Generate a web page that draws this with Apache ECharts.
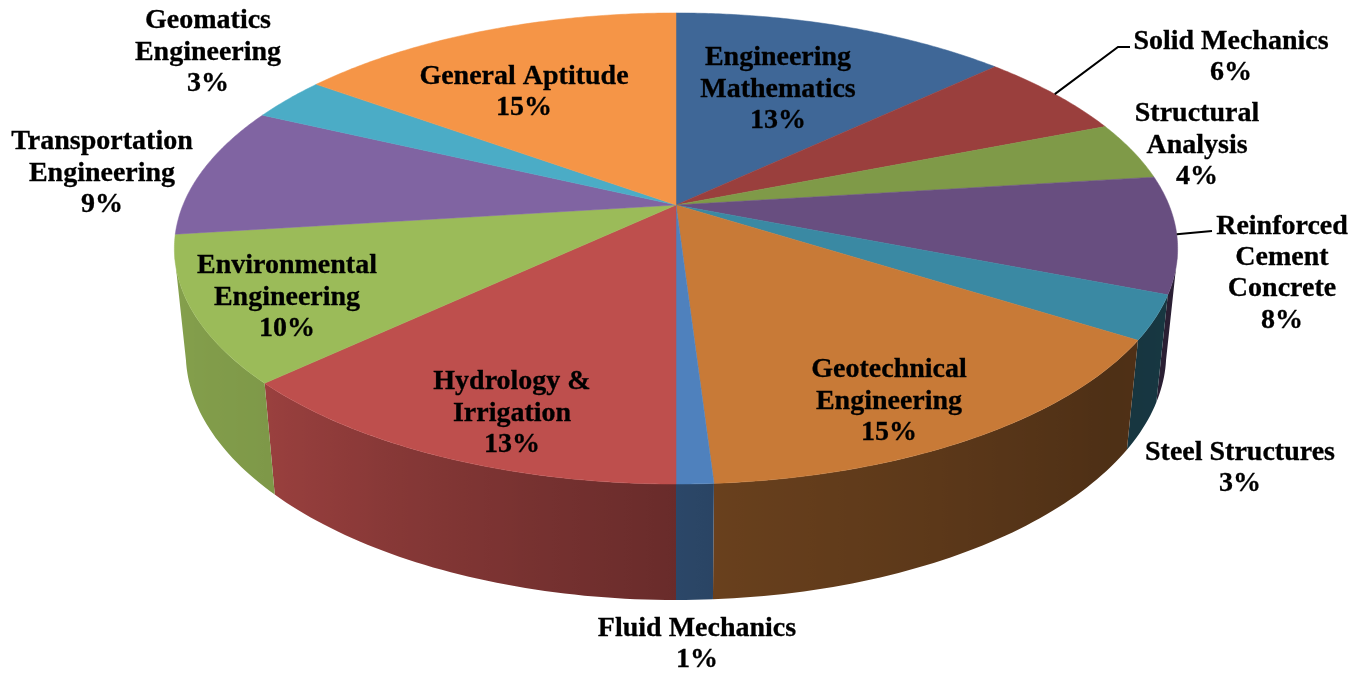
<!DOCTYPE html>
<html>
<head>
<meta charset="utf-8">
<style>html,body{margin:0;padding:0;background:#fff}#chart{width:1368px;height:673px}</style>
<script src="https://cdn.jsdelivr.net/npm/echarts@6/dist/echarts.min.js"></script>
</head>
<body>
<div id="chart"></div>
<script>
// ---- data ----
const categories = [
  'Engineering\nMathematics', 'Solid Mechanics', 'Structural\nAnalysis',
  'Reinforced\nCement\nConcrete', 'Steel Structures', 'Geotechnical\nEngineering',
  'Fluid Mechanics', 'Hydrology &\nIrrigation', 'Environmental\nEngineering',
  'Transportation\nEngineering', 'Geomatics\nEngineering', 'General Aptitude'
];
const values = [13, 6, 4, 8, 3, 15, 1, 13, 10, 9, 3, 15];

// ---- styles ----
const colors = ['#3f6797', '#9a3f3d', '#7f9a48', '#684e80', '#3a89a3', '#c87a37',
                '#4f81bd', '#be4f4d', '#9bbb59', '#8064a2', '#4bacc6', '#f59547'];
// wall brightness as a function of the rim angle
const wallShade = [[0, .42], [80, .42], [130, .39], [175, .52], [180, .55], [228, .82], [250, .85], [360, .85]];

// ---- layout: label centres, and which labels have leader lines ----
const labelCentres = [[778, 87], [1231, 55], [1197, 143], [1282, 271], [1240, 466], [889, 399],
                      [697, 642], [512, 411], [287, 295], [102, 171], [208, 50], [524, 90]];
const leaders = { 1: [[1118, 47], [1130, 47]], 3: [[1212, 231]] };
const FONT = 'bold 28px "Liberation Serif", serif';
const LINE_HEIGHT = 31.4;
const LABEL_DY = 2.5;

// ---- perspective disc ----
const CX = 676, CY = 205, RX = 493, RY = 227.5, K = 0.1847;
const VANISH = [676, 4900];
// rim range whose wall faces the viewer
const WALL_FROM = 102, WALL_TO = 258;

function top3d(deg) {
  const t = deg * Math.PI / 180;
  const depth = -Math.cos(t);
  const w = 1 / (1 - K * depth);
  return { x: CX + RX * Math.sin(t) * w, y: CY + RY * depth * w, w: w, depth: depth };
}
function bottom3d(p) {
  const h = 53.4 + 51 * p.w;
  const dx = VANISH[0] - p.x, dy = VANISH[1] - p.y, len = Math.hypot(dx, dy);
  return [p.x + h * dx / len, p.y + h * dy / len];
}
function shadeAt(deg) {
  for (let i = 1; i < wallShade.length; i++) {
    if (deg <= wallShade[i][0]) {
      const a = wallShade[i - 1], b = wallShade[i];
      return a[1] + (b[1] - a[1]) * (deg - a[0]) / (b[0] - a[0]);
    }
  }
  return 1;
}
function shadeColor(hex, s) {
  const n = parseInt(hex.slice(1), 16);
  return 'rgb(' + [(n >> 16) & 255, (n >> 8) & 255, n & 255].map(c => Math.round(c * s)).join(',') + ')';
}

const total = values.reduce((a, b) => a + b, 0);
function sliceAngles(i) {
  let before = 0;
  for (let j = 0; j < i; j++) before += values[j];
  return [before / total * 360, (before + values[i]) / total * 360];
}
const seriesData = values.map((v, i) => [i, v]);

function renderWall(params, api) {
  const i = api.value(0);
  const [a0, a1] = sliceAngles(i);
  const from = Math.max(a0, WALL_FROM), to = Math.min(a1, WALL_TO);
  if (to <= from) return null;
  const n = Math.max(2, Math.ceil(to - from));
  const rim = [];
  for (let k = 0; k <= n; k++) rim.push(from + (to - from) * k / n);
  const upper = rim.map(top3d);
  const lower = upper.map(bottom3d);
  const pts = upper.map(p => [p.x, p.y]).concat(lower.reverse());
  // horizontal gradient across the wall, following the rim's shading
  const xs = upper.map(p => p.x);
  const xMin = Math.min(...xs), xMax = Math.max(...xs);
  const span = Math.max(xMax - xMin, 1);
  const stops = upper
    .map((p, k) => ({ offset: (p.x - xMin) / span, color: shadeColor(colors[i], shadeAt(rim[k])) }))
    .sort((a, b) => a.offset - b.offset);
  return {
    type: 'polygon',
    shape: { points: pts },
    style: {
      fill: { type: 'linear', x: xMin, y: 0, x2: xMax, y2: 0, global: true, colorStops: stops },
      stroke: null
    }
  };
}

function renderTop(params, api) {
  const i = api.value(0);
  const [a0, a1] = sliceAngles(i);
  const pts = [[CX, CY]];
  const n = Math.max(2, Math.ceil((a1 - a0) / 0.5));
  for (let k = 0; k <= n; k++) {
    const p = top3d(a0 + (a1 - a0) * k / n);
    pts.push([p.x, p.y]);
  }
  return {
    type: 'polygon',
    shape: { points: pts },
    style: { fill: colors[i], stroke: colors[i], lineWidth: 0.5 }
  };
}

function renderLabel(params, api) {
  const i = api.value(0);
  const kids = [{
    type: 'text',
    x: labelCentres[i][0],
    y: labelCentres[i][1] + LABEL_DY,
    style: {
      text: categories[i] + '\n' + api.value(1) + '%',
      font: FONT,
      lineHeight: LINE_HEIGHT,
      fill: '#000',
      stroke: '#000',
      lineWidth: 0.3,
      align: 'center',
      verticalAlign: 'middle'
    }
  }];
  if (leaders[i]) {
    const [a0, a1] = sliceAngles(i);
    const s = top3d((a0 + a1) / 2);
    kids.push({
      type: 'polyline',
      shape: { points: [[s.x, s.y]].concat(leaders[i]) },
      style: { stroke: '#000', lineWidth: 2, fill: null }
    });
  }
  return { type: 'group', children: kids };
}

const chart = echarts.init(document.getElementById('chart'), null, { renderer: 'canvas' });
chart.setOption({
  animation: false,
  backgroundColor: '#ffffff',
  series: [
    { type: 'custom', coordinateSystem: 'none', z: 2, silent: true, renderItem: renderWall, data: seriesData },
    { type: 'custom', coordinateSystem: 'none', z: 3, silent: true, renderItem: renderTop, data: seriesData },
    { type: 'custom', coordinateSystem: 'none', z: 4, silent: true, renderItem: renderLabel, data: seriesData }
  ]
});
</script>
</body>
</html>
